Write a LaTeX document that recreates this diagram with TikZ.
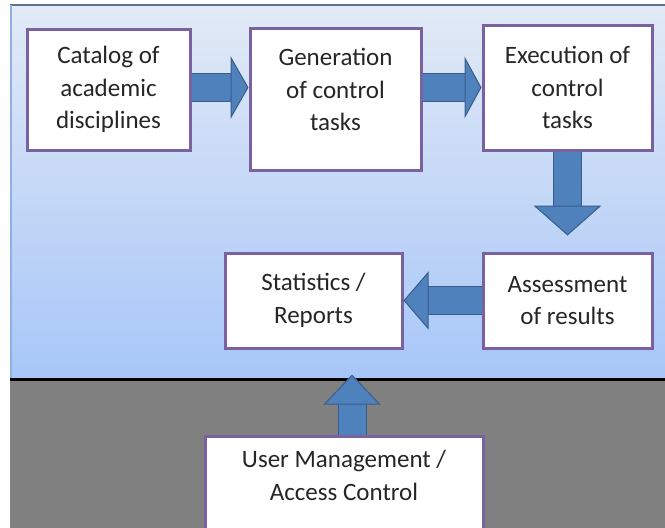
\documentclass[tikz,border=0pt]{standalone}
\usepackage{fontspec}
\setmainfont{Carlito}
\usetikzlibrary{arrows.meta}
\definecolor{paletop}{HTML}{E2EAF6}
\definecolor{panelblue}{HTML}{A7C6F8}
\definecolor{frameline}{HTML}{5C7394}
\definecolor{sideline}{HTML}{8FB0E0}
\definecolor{boxline}{HTML}{7A62A0}
\definecolor{arrowfill}{HTML}{4F81BD}
\definecolor{arrowedge}{HTML}{385D8A}
\definecolor{lowgray}{HTML}{808080}

\tikzset{
  box/.style={draw=boxline, line width=3pt, fill=white, align=center,
    font=\fontsize{25}{32.5}\selectfont, text=black!85},
  blockarrow/.style 2 args={double=arrowfill, double distance=27pt, draw=arrowedge, line width=1pt,
    -{Triangle[length=#1, width=#2, line width=1pt, fill=arrowfill, color=arrowedge]}}
}

\begin{document}
\begin{tikzpicture}[x=1pt,y=-1pt]
\useasboundingbox (0,0) rectangle (665,528);
\shade[top color=paletop, bottom color=panelblue] (10,5) rectangle (665,378);
\fill[lowgray] (10,379) rectangle (665,528);
\draw[frameline, line width=2pt] (10,5) -- (665,5);
\draw[sideline, line width=1.5pt] (10.75,5) -- (10.75,378);
\draw[black, line width=3pt] (10,379) -- (665,379);

\node[box, minimum width=163pt, minimum height=121pt] (cat) at (108.5,89.5) {Catalog of\\academic\\disciplines};
\node[box, minimum width=171pt, minimum height=142pt] (gen) at (335.5,99) {Generation\\of control\\tasks\\[-14pt]\mbox{}};
\node[box, minimum width=169pt, minimum height=125pt] (exe) at (567.5,87.5) {Execution of\\control\\tasks};
\node[box, minimum width=177pt, minimum height=95pt] (stat) at (313.5,300.5) {Statistics /\\Reports};
\node[box, minimum width=169pt, minimum height=95pt] (ass) at (567.5,300.5) {Assessment\\of results};
\node[box, anchor=north, minimum width=278pt, inner ysep=14pt] (user) at (344,435) {User Management /\\Access Control\\[40pt]\mbox{}};

\draw[blockarrow={18pt}{63pt}] (cat.east |- exe.west) -- (gen.west |- exe.west);
\draw[blockarrow={17pt}{62pt}] (gen.east |- exe.west) -- (exe.west);
\draw[blockarrow={30pt}{68pt}, shorten >=16pt] (exe.south) -- (ass.north);
\draw[blockarrow={25pt}{58pt}] (ass.west) -- (stat.east);
\coordinate (up) at ([xshift=8pt]user.north);
\draw[blockarrow={30pt}{57pt}, shorten >=25pt] (up) -- (up |- stat.south);
\end{tikzpicture}
\end{document}
